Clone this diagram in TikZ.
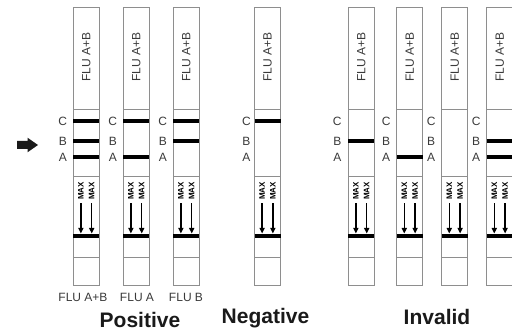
\documentclass[tikz,border=0pt]{standalone}
\usepackage{fontspec}
\setmainfont{Liberation Sans}
\usetikzlibrary{arrows.meta}
\definecolor{stripgray}{HTML}{8E8E8E}
\definecolor{labgray}{HTML}{3A3A3A}
\definecolor{headblack}{HTML}{1A1A1A}
\newcommand\mystrip[6]{%
  \begin{scope}[shift={(#1,0)}]
    \draw[outline] (0,7) rectangle (26,285);
    \draw[outline] (0,109) -- (26,109);
    \draw[outline] (0,176) -- (26,176);
    \draw[outline] (0,257) -- (26,257);
    \node[striplab, rotate=90] (#2-t) at (13,57) {FLU A+B};
    \ifnum#3=1 \draw[bar] (0,121) -- (26,121);\fi
    \ifnum#4=1 \draw[bar] (0,141) -- (26,141);\fi
    \ifnum#5=1 \draw[bar] (0,157) -- (26,157);\fi
    \node[letlab] (#2-c) at (-#6,121) {C};
    \node[letlab] (#2-b) at (-#6,141) {B};
    \node[letlab] (#2-a) at (-#6,157) {A};
    \node[maxlab, rotate=90] (#2-m1) at (7.6,191) {MAX};
    \node[maxlab, rotate=90] (#2-m2) at (18.4,191) {MAX};
    \coordinate (#2-e1) at (7.6,233.5);
    \coordinate (#2-e2) at (18.4,233.5);
    \draw[maxarrow] (#2-m1.west) ++(0,3) -- (#2-e1);
    \draw[maxarrow] (#2-m2.west) ++(0,3) -- (#2-e2);
    \draw[bar] (0,236) -- (26,236);
  \end{scope}}
\begin{document}
\begin{tikzpicture}[x=1pt,y=-1pt,
  outline/.style={draw=stripgray, line width=0.9pt},
  bar/.style={line width=4pt, draw=black},
  striplab/.style={inner sep=0pt, text=labgray, font=\fontsize{12}{12}\selectfont},
  letlab/.style={inner sep=0pt, text=labgray, font=\fontsize{12}{12}\selectfont},
  maxlab/.style={inner sep=0pt, text=black, font=\fontsize{8}{8}\selectfont\bfseries},
  maxarrow/.style={line width=1.4pt, draw=black, -{Triangle[width=5pt,length=5.5pt]}},
  botlab/.style={inner sep=0pt, anchor=base, text=labgray, font=\fontsize{12}{12}\selectfont},
  head/.style={inner sep=0pt, anchor=base, text=headblack, font=\fontsize{21}{21}\selectfont\bfseries}]
\useasboundingbox (0,0) rectangle (512,331);
\clip (0,0) rectangle (512,331);
\fill[white] (0,0) rectangle (512,331);
\fill[headblack] (17,141) -- (27.5,141) -- (27.5,137.7) -- (38,145) -- (27.5,152.3) -- (27.5,149) -- (17,149) -- cycle;
\mystrip{73.3}{s1}{1}{1}{1}{10.5}
\mystrip{123.3}{s2}{1}{0}{1}{10.5}
\mystrip{173.3}{s3}{1}{1}{0}{10.5}
\mystrip{254.5}{n1}{1}{0}{0}{8}
\mystrip{348.3}{i1}{0}{1}{0}{11}
\mystrip{396.7}{i2}{0}{0}{1}{10.5}
\mystrip{441.7}{i3}{0}{0}{0}{10.5}
\mystrip{486.7}{i4}{0}{1}{1}{10.5}
\node[botlab] (l1) at (83,302) {FLU A+B};
\node[botlab] (l2) at (137,302) {FLU A};
\node[botlab] (l3) at (186,302) {FLU B};
\node[head] (pos) at (140,328) {Positive};
\node[head] (neg) at (265.5,324) {Negative};
\node[head] (inv) at (437,325) {Invalid};
\end{tikzpicture}
\end{document}
